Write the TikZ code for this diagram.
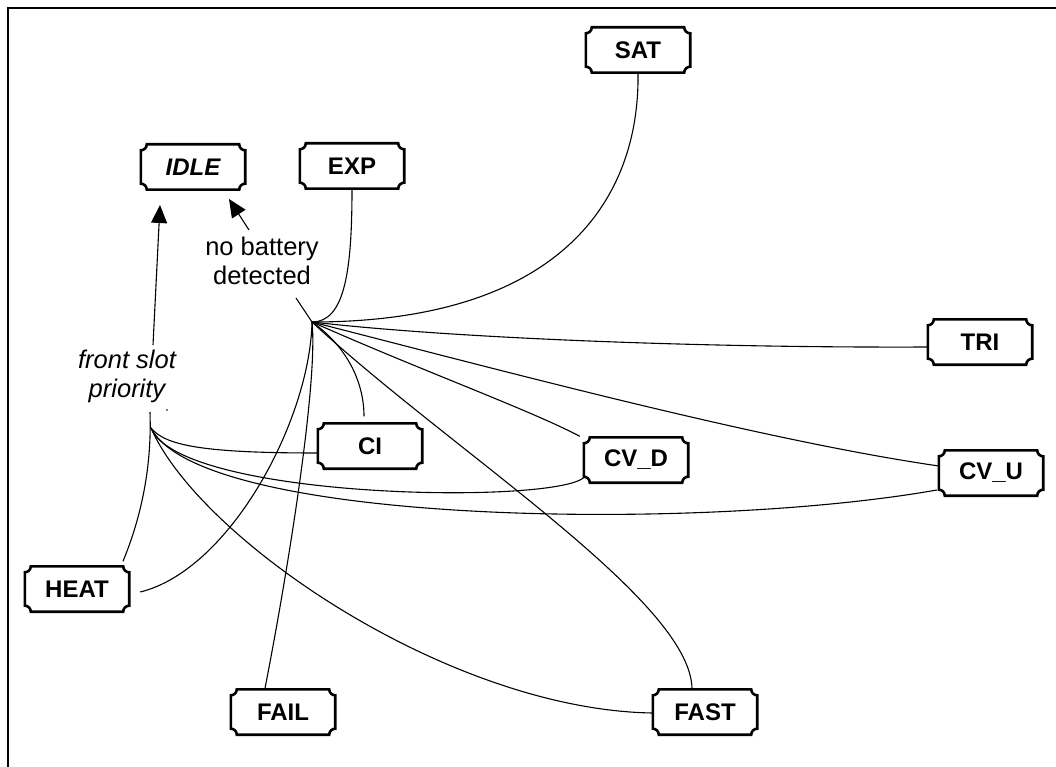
\documentclass[tikz,border=0pt]{standalone}
\usepackage{fontspec}
\setmainfont{Liberation Sans}
\usetikzlibrary{calc,arrows.meta}
\newcommand\notchbox[1]{%
\draw[boxline]
 ($(#1.north west)+(6pt,0pt)$) -- ($(#1.north east)+(-6pt,0pt)$)
 .. controls ($(#1.north east)+(-6pt,-3.3pt)$) and ($(#1.north east)+(-3.3pt,-6pt)$) .. ($(#1.north east)+(0pt,-6pt)$)
 -- ($(#1.south east)+(0pt,6pt)$)
 .. controls ($(#1.south east)+(-3.3pt,6pt)$) and ($(#1.south east)+(-6pt,3.3pt)$) .. ($(#1.south east)+(-6pt,0pt)$)
 -- ($(#1.south west)+(6pt,0pt)$)
 .. controls ($(#1.south west)+(6pt,3.3pt)$) and ($(#1.south west)+(3.3pt,6pt)$) .. ($(#1.south west)+(0pt,6pt)$)
 -- ($(#1.north west)+(0pt,-6pt)$)
 .. controls ($(#1.north west)+(3.3pt,-6pt)$) and ($(#1.north west)+(6pt,-3.3pt)$) .. ($(#1.north west)+(6pt,0pt)$)
 -- cycle;}
\begin{document}
\begin{tikzpicture}[x=1pt,y=-1pt,
  state/.style={minimum width=104pt,minimum height=45pt,inner sep=0pt,
    font=\fontsize{24}{28}\selectfont\bfseries},
  lbl/.style={font=\fontsize{25.5}{29}\selectfont,align=center,inner sep=0pt},
  conn/.style={line width=1.1pt},
  arr/.style={line width=1.1pt,-{Triangle[length=18pt,width=16pt]}},
  boxline/.style={line width=2.6pt,line join=miter}]
\useasboundingbox (0,0) rectangle (1056,767);
\fill[white] (0,0) rectangle (1056,767);
% frame
\draw[line width=2pt] (8,7) -- (8,767);
\draw[line width=1.1pt] (7,8) -- (1056,8);

% states
\node[state] (SAT)  at (638,50)  {SAT};
\node[state] (IDLE) at (193,167) {\itshape IDLE};
\node[state] (EXP)  at (352,166) {EXP};
\node[state] (TRI)  at (980,342) {TRI};
\node[state] (CI)   at (370,446) {CI};
\node[state] (CVD)  at (636,460) {CV\_D};
\node[state] (CVU)  at (991,473) {CV\_U};
\node[state] (HEAT) at (77,589)  {HEAT};
\node[state] (FAIL) at (283,712) {FAIL};
\node[state] (FAST) at (705,712) {FAST};
\foreach \n in {SAT,IDLE,EXP,TRI,CI,CVD,CVU,HEAT,FAIL,FAST} {\notchbox{\n}}

% labels
\node[lbl] (nbd) at (262,261) {no battery\\detected};
\node[lbl,font=\fontsize{25.5}{29}\selectfont\itshape] (fsp) at (127,376) {front slot\\priority};

% hubs
\coordinate (h1) at (312,322);
\coordinate (h1t) at (296,298);
\coordinate (h2) at (151,428);
\coordinate (h2t) at (150,412);
\coordinate (a1s) at (249,230);
\coordinate (a1e) at (229,199);
\coordinate (a2s) at (153,345);
\coordinate (a2e) at (160,205);

% arrows to IDLE
\draw[arr] (a1s) -- (a1e);
\draw[arr] (a2s) -- (a2e);
\draw[conn] (h1) -- (h1t);

% fan from hub 1
\draw[conn] (h1) .. controls (560,322) and (640,200) .. (SAT.south);
\draw[conn] (h1) .. controls (345,322) and (352,270) .. (EXP.south);
\draw[conn] (h1) .. controls (450,338) and (700,348) .. ([yshift=-5pt]TRI.west);
\draw[conn] (h1) .. controls (345,345) and (364,380) .. ([xshift=-6pt,yshift=7pt]CI.north);
\draw[conn] (h1) .. controls (420,370) and (530,410) .. ([xshift=-4pt,yshift=1pt]CVD.north west);
\draw[conn] (h1) .. controls (500,370) and (760,440) .. ([yshift=7pt]CVU.west);
\draw[conn] (h1) .. controls (450,450) and (690,600) .. ([xshift=-13pt,yshift=1pt]FAST.north);
\draw[conn] (h1) .. controls (318,380) and (290,560) .. ([xshift=-18pt,yshift=1pt]FAIL.north);
\draw[conn] (h1) .. controls (310,420) and (230,570) .. ([xshift=11pt,yshift=-3pt]HEAT.east);

% fan from hub 2
\draw[conn] (h2) .. controls (165,445) and (200,453) .. ([yshift=-7pt]CI.west);
\draw[conn] (h2) .. controls (180,500) and (560,505) .. ([xshift=1pt,yshift=6pt]CVD.south west);
\draw[conn] (h2) .. controls (200,525) and (700,532) .. ([xshift=-2pt,yshift=-17pt]CVU.west);
\draw[conn] (h2) .. controls (200,540) and (450,710) .. ([yshift=-1pt]FAST.west);
\draw[conn] (h2t) .. controls (152,470) and (140,520) .. ([xshift=46pt,yshift=5pt]HEAT.north);
\fill (167,410) circle (0.9);
\end{tikzpicture}
\end{document}
